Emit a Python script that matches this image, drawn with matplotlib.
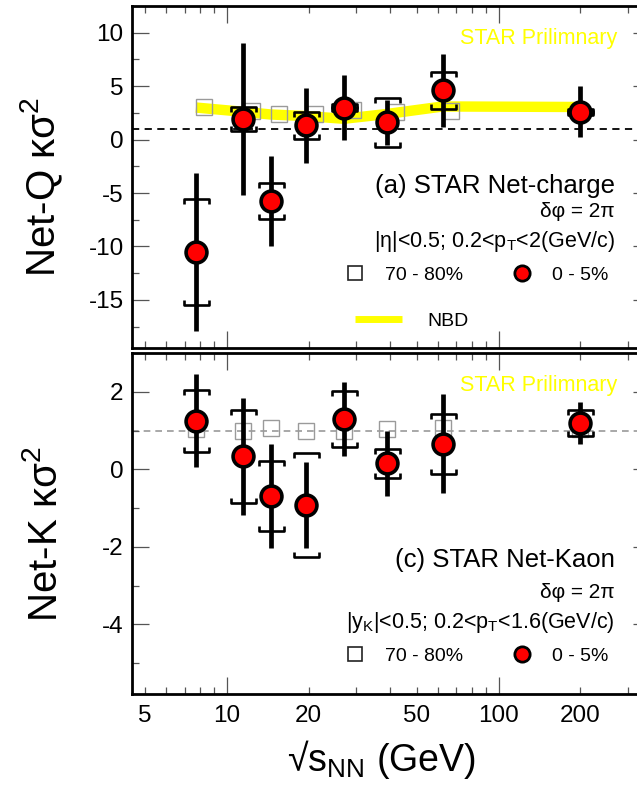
import numpy as np
import matplotlib
matplotlib.use('Agg')
import matplotlib.pyplot as plt
from matplotlib.path import Path
from matplotlib.lines import Line2D
from matplotlib.ticker import FixedLocator, FuncFormatter, MultipleLocator

# collision energies (GeV)
energy = [7.7, 11.5, 14.5, 19.6, 27, 39, 62.4, 200]

# net-charge kappa*sigma^2, 0-5% centrality
netq_val = [-10.5, 1.95, -5.75, 1.35, 3.0, 1.6, 4.6, 2.6]
netq_stat = [7.4, 7.1, 4.2, 3.5, 3.0, 2.15, 3.4, 2.4]
netq_sys = [4.95, 1.1, 1.7, 1.25, 0.3, 2.25, 1.7, 0.3]
# net-charge 70-80% (no 200 GeV point)
netq_periph = [3.05, 2.7, 2.35, 2.35, 2.75, 2.6, 2.7]
# NBD expectation for net-charge
netq_nbd = [3.0, 2.6, 2.35, 2.2, 1.95, 2.4, 3.1, 3.05]

# net-kaon kappa*sigma^2, 0-5% centrality
netk_val = [1.25, 0.33, -0.69, -0.92, 1.3, 0.15, 0.66, 1.19]
netk_stat = [1.2, 1.5, 1.35, 1.1, 0.95, 0.85, 1.27, 0.54]
netk_sys = [0.8, 1.2, 0.9, 1.35, 0.72, 0.37, 0.77, 0.33]
# net-kaon 70-80%
netk_periph = [1.05, 0.98, 1.06, 1.0, 1.0, 1.03, 1.07, 1.05]

PERIPH_SHIFT = 1.075   # peripheral net-charge points drawn slightly right
YELLOW = '#ffff00'

plt.rcParams.update({
    'font.family': ['Liberation Sans', 'DejaVu Sans'],
    'mathtext.fontset': 'custom',
    'mathtext.rm': 'Liberation Sans',
    'mathtext.it': 'Liberation Sans:italic',
    'mathtext.default': 'regular',
    'axes.unicode_minus': False,
})

W, H = 637, 788
fig = plt.figure(figsize=(W / 100, H / 100), dpi=100)


def px_axes(left, top, right, bottom):
    return fig.add_axes([left / W, 1 - bottom / H, (right - left) / W, (bottom - top) / H])


ax_q = px_axes(132, 6, 650, 348)
ax_k = px_axes(132, 353, 650, 694)

# bracket-style caps for systematic errors
CODES = [Path.MOVETO, Path.LINETO, Path.LINETO, Path.LINETO]
CAP_TOP = Path([(-1, -0.4), (-1, 0), (1, 0), (1, -0.4)], CODES)
CAP_BOT = Path([(-1, 0.4), (-1, 0), (1, 0), (1, 0.4)], CODES)


def draw_central(ax, val, stat, sys):
    val = np.asarray(val, float)
    sys = np.asarray(sys, float)
    ax.errorbar(energy, val, yerr=stat, fmt='none', ecolor='k', elinewidth=3.4,
                capsize=0, zorder=3)
    ax.plot(energy, val + sys, ls='none', marker=CAP_TOP, ms=18, mfc='none', mec='k',
            mew=1.9, zorder=3)
    ax.plot(energy, val - sys, ls='none', marker=CAP_BOT, ms=18, mfc='none', mec='k',
            mew=1.9, zorder=3)
    ax.plot(energy, val, ls='none', marker='o', ms=15, mfc='#ff0000', mec='k',
            mew=2.6, zorder=4)


def style_axes(ax, show_xlabels):
    ax.set_xscale('log')
    ax.set_xlim(4.48, 361)
    ax.xaxis.set_major_locator(FixedLocator([10, 100]))
    ax.xaxis.set_minor_locator(FixedLocator([5, 6, 7, 8, 9, 20, 30, 40, 50, 60, 70, 80, 90,
                                             200, 300]))
    ax.xaxis.set_major_formatter(FuncFormatter(lambda v, p: f'{v:g}'))
    ax.xaxis.set_minor_formatter(FuncFormatter(
        lambda v, p: f'{v:g}' if round(v) in (5, 20, 50, 200) else ''))
    ax.tick_params(which='both', direction='in', top=True, right=True, color='#555555',
                   width=0.9, labelsize=17.5)
    ax.tick_params(which='major', length=12)
    ax.tick_params(which='minor', length=5)
    ax.tick_params(axis='x', which='both', pad=8, labelbottom=show_xlabels)
    ax.tick_params(axis='y', which='both', pad=6)
    for s in ax.spines.values():
        s.set_linewidth(2)


# ---- net-charge panel ----
ax = ax_q
ax.plot(energy, netq_nbd, color=YELLOW, lw=7.5, solid_capstyle='butt', zorder=1)
ax.plot(np.array(energy[:len(netq_periph)]) * PERIPH_SHIFT, netq_periph, ls='none',
        marker='s', ms=11, mfc='none', mec='#9a9a9a', mew=1.0, zorder=2)
ax.axhline(1, color='k', lw=1.3, ls=(0, (4, 3)), zorder=1.5)
draw_central(ax, netq_val, netq_stat, netq_sys)
style_axes(ax, False)
ax.set_ylim(-19.5, 12.5)
ax.yaxis.set_major_locator(MultipleLocator(5))
ax.yaxis.set_minor_locator(MultipleLocator(2.5))
ax.set_ylabel('Net-Q κσ$^2$', fontsize=29)
ax.yaxis.set_label_coords(-0.13, 0.47)

ax.text(0.936, 0.906, 'STAR Prilimnary', color=YELLOW, fontsize=15.5, ha='right',
        va='center', transform=ax.transAxes)
ax.text(0.932, 0.474, '(a) STAR Net-charge', fontsize=18.5, ha='right', va='center',
        transform=ax.transAxes)
ax.text(0.932, 0.398, 'δφ = 2π', fontsize=15, ha='right', va='center',
        transform=ax.transAxes)
ax.text(0.932, 0.310, '|η|<0.5; 0.2<p$_{T}$<2(GeV/c)', fontsize=15.5, ha='right',
        va='center', transform=ax.transAxes)

# ---- net-kaon panel ----
ax = ax_k
ax.plot(energy, netk_periph, ls='none', marker='s', ms=11, mfc='none', mec='#9a9a9a',
        mew=1.0, zorder=2)
ax.axhline(1, color='#999999', lw=1.2, ls=(0, (4, 3)), zorder=1.5)
draw_central(ax, netk_val, netk_stat, netk_sys)
style_axes(ax, True)
ax.set_ylim(-5.8, 3.0)
ax.yaxis.set_major_locator(MultipleLocator(2))
ax.yaxis.set_minor_locator(MultipleLocator(1))
ax.set_ylabel('Net-K κσ$^2$', fontsize=29)
ax.yaxis.set_label_coords(-0.13, 0.47)
ax.set_xlabel('√s$_{NN}$ (GeV)', fontsize=27)
ax.xaxis.set_label_coords(0.481, -0.13)

ax.text(0.936, 0.906, 'STAR Prilimnary', color=YELLOW, fontsize=15.5, ha='right',
        va='center', transform=ax.transAxes)
ax.text(0.932, 0.393, '(c) STAR Net-Kaon', fontsize=18.5, ha='right', va='center',
        transform=ax.transAxes)
ax.text(0.932, 0.299, 'δφ = 2π', fontsize=15, ha='right', va='center',
        transform=ax.transAxes)
ax.text(0.932, 0.211, '|y$_{K}$|<0.5; 0.2<p$_{T}$<1.6(GeV/c)', fontsize=15.5, ha='right',
        va='center', transform=ax.transAxes)

# ---- legends ----
sq_handle = Line2D([], [], ls='none', marker='s', ms=10.5, mfc='none', mec='#222222', mew=1.2)
ci_handle = Line2D([], [], ls='none', marker='o', ms=11, mfc='#ff0000', mec='k', mew=2)
nbd_handle = Line2D([], [], color=YELLOW, lw=5, solid_capstyle='butt')

for ax, ypos in ((ax_q, 0.2135), (ax_k, 0.111)):
    leg = ax.legend([sq_handle, ci_handle], ['70 - 80%', '0 - 5%'], ncol=2,
                    loc='center left', bbox_to_anchor=(0.412, ypos), frameon=False,
                    fontsize=14, handlelength=1.0, handletextpad=1.05,
                    columnspacing=2.5, borderpad=0, borderaxespad=0)
    if ax is ax_q:
        ax.add_artist(leg)

ax_q.legend([nbd_handle], ['NBD'], loc='center left', bbox_to_anchor=(0.4305, 0.079),
            frameon=False, fontsize=14, handlelength=2.4, handletextpad=1.3,
            borderpad=0, borderaxespad=0)

fig.savefig('out.png', dpi=100)
